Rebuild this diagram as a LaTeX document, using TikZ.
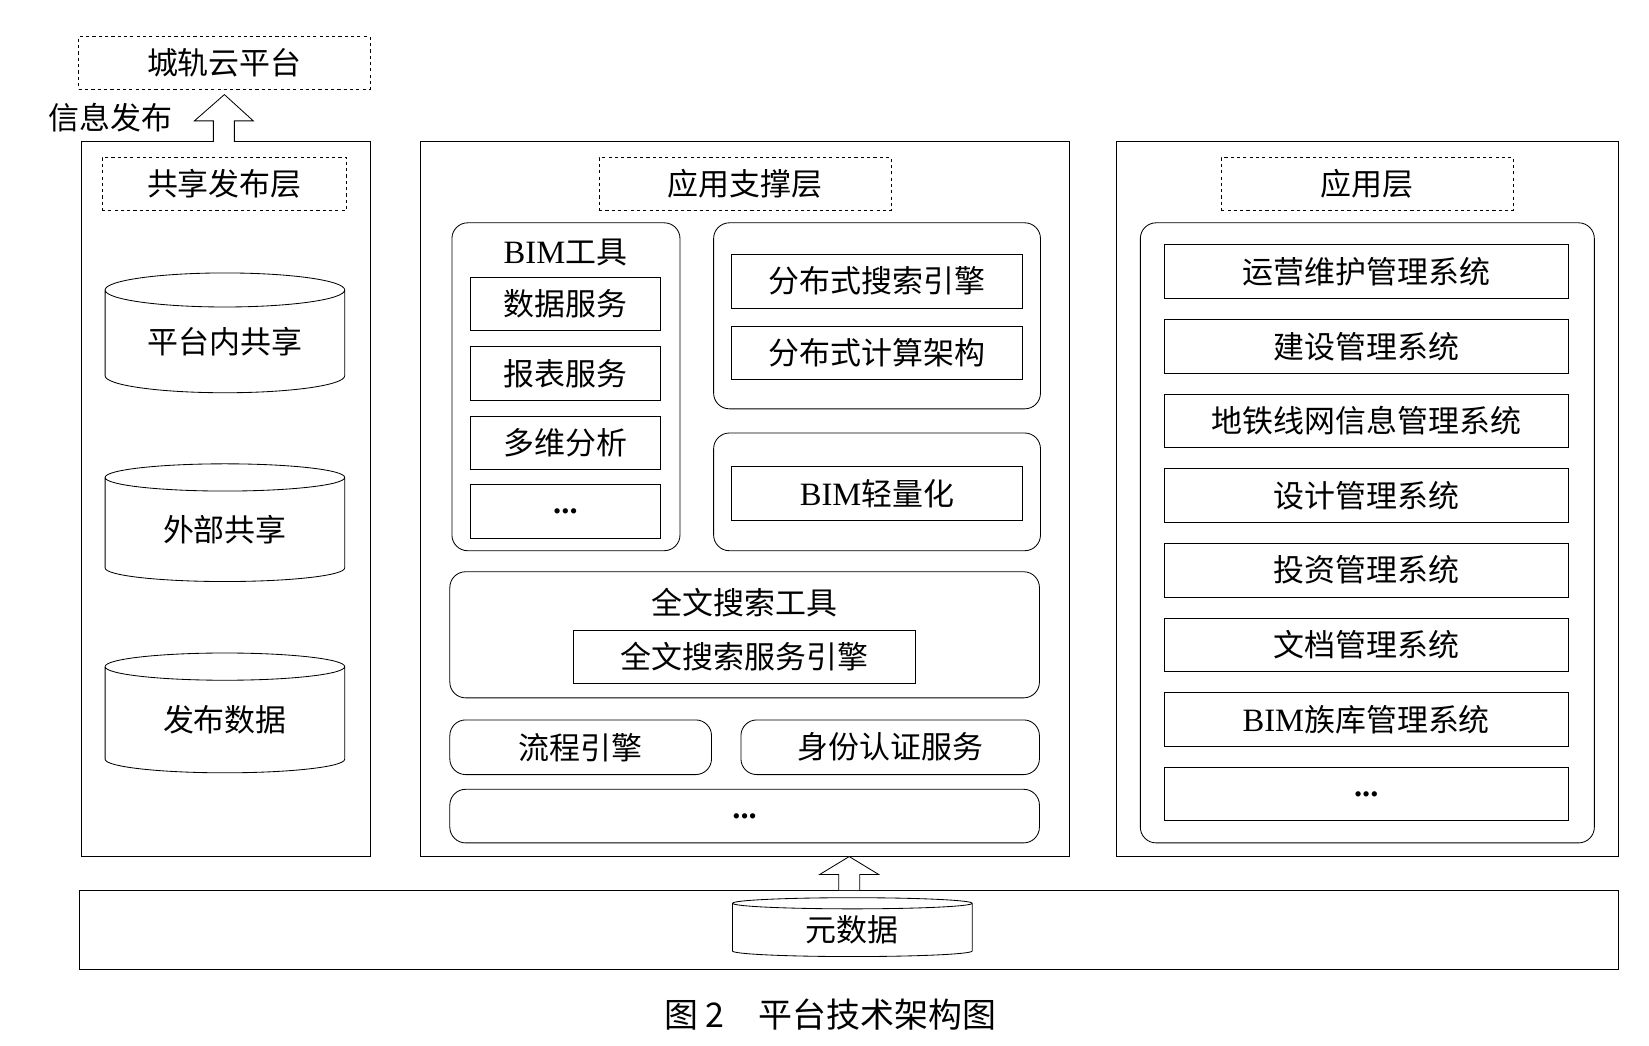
\documentclass[tikz,border=0pt]{standalone}
\usepackage{fontspec}
\setmainfont{Liberation Serif}
\newfontfamily\cjk{Noto Sans CJK SC}[Scale=0.95]
\usetikzlibrary{calc,shapes.geometric}

\tikzset{
  base/.style={draw, thick, inner sep=0pt, outer sep=0pt, font=\fontsize{31}{35}\selectfont\cjk},
  plain/.style={base},
  dashbox/.style={base, dashed},
  rbox/.style={base, rounded corners=15pt},
  drum/.style={base, cylinder, shape border rotate=90, aspect=0.22, minimum width=228pt},
  hollow/.style={draw, thick, fill=white},
}

\begin{document}
\begin{tikzpicture}[x=1pt, y=-1pt]
    \useasboundingbox (0,0) rectangle (1569,995);
    \fill[white] (0,0) rectangle (1569,995);

    % top
    \node[dashbox, minimum width=277pt, minimum height=50pt] (cloud) at (213.5,60) {城轨云平台};
    \node[font=\fontsize{31}{35}\selectfont\cjk] (pub) at (105,112) {信息发布};

    % columns
    \node[plain, minimum width=275pt, minimum height=680pt] (share) at (214.5,475) {};
    \node[plain, minimum width=618pt, minimum height=680pt] (support) at (709,475) {};
    \node[plain, minimum width=478pt, minimum height=680pt] (app) at (1301,475) {};
    \node[plain, minimum width=1464pt, minimum height=75pt] (meta) at (808,884.5) {};

    % shared layer
    \node[dashbox, minimum width=233pt, minimum height=50pt] (share_t) at (213.5,175) {共享发布层};
    \node[drum, minimum height=114pt] (cyl1) at (214,325) {平台内共享};
    \node[drum, minimum height=112pt] (cyl2) at (214,504) {外部共享};
    \node[drum, minimum height=114pt] (cyl3) at (214,685) {发布数据};

    % support layer
    \node[dashbox, minimum width=278pt, minimum height=50pt] (support_t) at (709,175) {应用支撑层};
    \node[rbox, minimum width=217pt, minimum height=312pt] (bim) at (538.5,368) {};
    \node[font=\fontsize{31}{35}\selectfont] at (538,240) {BIM{\cjk 工具}};
    \foreach \name/\txt/\y in {s1/数据服务/289, s2/报表服务/355.5, s3/多维分析/421.5, s4/\textrm{\textbf{...}}/486.5}
      \node[plain, minimum width=180pt, minimum height=51pt] (\name) at (538,\y) {\txt};

    \node[rbox, minimum width=311pt, minimum height=177pt] (dist) at (834.5,300.5) {};
    \node[plain, minimum width=277pt, minimum height=51pt] (d1) at (834.5,267.5) {分布式搜索引擎};
    \node[plain, minimum width=277pt, minimum height=50pt] (d2) at (834.5,336) {分布式计算架构};

    \node[rbox, minimum width=311pt, minimum height=112pt] (light) at (834.5,468) {};
    \node[plain, minimum width=277pt, minimum height=51pt] (l1) at (834.5,469.5) {\rmfamily BIM{\cjk 轻量化}};

    \node[rbox, minimum width=561pt, minimum height=120pt] (fts) at (708.5,604) {};
    \node[font=\fontsize{31}{35}\selectfont\cjk] at (708.5,573) {全文搜索工具};
    \node[plain, minimum width=325pt, minimum height=50pt] (f1) at (708.5,625) {全文搜索服务引擎};

    \node[rbox, minimum width=249pt, minimum height=52pt] (flow) at (552.5,711) {流程引擎};
    \node[rbox, minimum width=284pt, minimum height=52pt] (auth) at (847,711) {身份认证服务};
    \node[rbox, minimum width=561pt, minimum height=51pt] (more) at (708.5,776.5) {\textrm{\textbf{...}}};

    % application layer
    \node[dashbox, minimum width=278pt, minimum height=50pt] (app_t) at (1301,175) {应用层};
    \node[rbox, minimum width=432pt, minimum height=590pt] (sys) at (1301,507) {};
    \foreach \name/\txt [count=\i from 0] in {a1/运营维护管理系统, a2/建设管理系统, a3/地铁线网信息管理系统,
      a4/设计管理系统, a5/投资管理系统, a6/文档管理系统, a7/\rmfamily BIM{\cjk 族库管理系统}, a8/\textrm{\textbf{...}}}
      \node[plain, minimum width=384pt, minimum height=51pt] (\name) at (1300,258.5+71*\i) {\txt};

    % metadata
    \node[drum, minimum width=228pt, minimum height=56pt, aspect=0.12] (md) at (811,885) {元数据};

    % hollow arrows
    \coordinate (up1) at ($(share.north)+(-1.5,0)$);
    \draw[hollow] (up1) ++(-10,0) -- ++(0,-20) -- ++(-18,0) -- ($(cloud.south)+(0,5)$)
      -- ($(up1)+(28,-20)$) -- ++(-18,0) -- ++(0,20);
    \coordinate (up2) at (meta.north);
    \draw[hollow] (up2) ++(-10,0) -- ++(0,-15) -- ++(-18,0) -- (support.south -| up2)
      -- ($(up2)+(28,-15)$) -- ++(-18,0) -- ++(0,15);

    \node[font=\fontsize{34}{38}\selectfont\cjk] (cap) at (790,965) {图 2\quad 平台技术架构图};
\end{tikzpicture}
\end{document}
